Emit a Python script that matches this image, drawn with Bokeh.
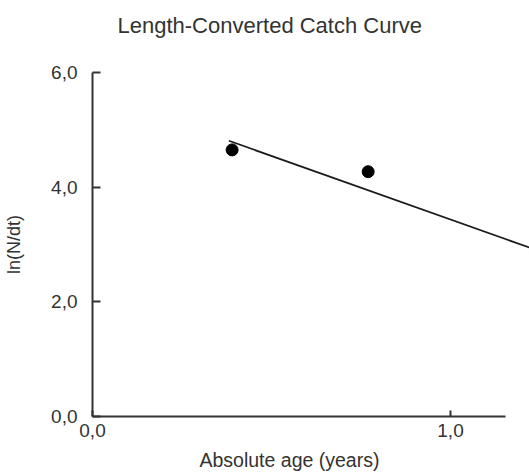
from bokeh.plotting import figure
from bokeh.models import Range1d, FixedTicker, Label
from bokeh.embed import file_html
from bokeh.resources import INLINE

# Observed length-converted catch data
ages = [0.39, 0.77]          # absolute age (years)
ln_n_dt = [4.65, 4.27]       # ln(N/dt)

# Regression fitted to the catch curve
fit_intercept = 5.655
fit_slope = -2.219
fit_ages = [0.381, 1.30]
fit_ln = [fit_intercept + fit_slope * a for a in fit_ages]

x_ticks = [0, 1]
x_tick_labels = ["0,0", "1,0"]
y_ticks = [0, 2, 4, 6]
y_tick_labels = ["0,0", "2,0", "4,0", "6,0"]

FONT = "Liberation Sans"
INK = "#333333"

p = figure(
    width=529, height=472,
    output_backend="svg", toolbar_location=None,
    x_range=Range1d(0, 1.2207), y_range=Range1d(0, 6.0),
    min_border_left=92, min_border_right=0,
    min_border_top=72, min_border_bottom=56,
)
p.outline_line_color = None
p.grid.visible = False
p.background_fill_color = "white"
p.border_fill_color = "white"

# x axis
xa = p.xaxis[0]
xa.ticker = FixedTicker(ticks=x_ticks)
xa.bounds = (0, 1.154)
xa.major_label_overrides = dict(zip(x_ticks, x_tick_labels))
xa.major_tick_in = 6
xa.major_tick_out = 0
xa.minor_tick_line_color = None
xa.axis_line_width = 2
xa.axis_line_color = INK
xa.major_tick_line_width = 2
xa.major_tick_line_color = INK
xa.major_label_text_font = FONT
xa.major_label_text_font_size = "19px"
xa.major_label_text_color = INK
xa.major_label_standoff = 7

# y axis
ya = p.yaxis[0]
ya.ticker = FixedTicker(ticks=y_ticks)
ya.bounds = (0, 6)
ya.major_label_overrides = dict(zip(y_ticks, y_tick_labels))
ya.major_tick_in = 8
ya.major_tick_out = 0
ya.minor_tick_line_color = None
ya.axis_line_width = 2
ya.axis_line_color = INK
ya.major_tick_line_width = 2
ya.major_tick_line_color = INK
ya.major_label_text_font = FONT
ya.major_label_text_font_size = "19px"
ya.major_label_text_color = INK
ya.major_label_standoff = 15
ya.axis_label = "ln(N/dt)"
ya.axis_label_text_font = FONT
ya.axis_label_text_font_size = "18px"
ya.axis_label_text_font_style = "normal"
ya.axis_label_text_color = INK
ya.axis_label_standoff = 24

# chart title and x-axis caption, placed in the side panels
p.add_layout(Label(x=25, y=47, x_units="screen", y_units="screen",
                   text="Length-Converted Catch Curve",
                   text_font=FONT, text_font_size="22px",
                   text_color=INK, text_baseline="alphabetic"), "above")
p.add_layout(Label(x=107, y=2, x_units="screen", y_units="screen",
                   text="Absolute age (years)",
                   text_font=FONT, text_font_size="19.5px",
                   text_color=INK, text_baseline="alphabetic"), "below")

# regression line and observed points
p.line(fit_ages, fit_ln, line_color="#1a1a1a", line_width=1.8)
p.scatter(ages, ln_n_dt, size=12, fill_color="black", line_color="black")

open("out.html", "w").write(file_html(p, INLINE))
